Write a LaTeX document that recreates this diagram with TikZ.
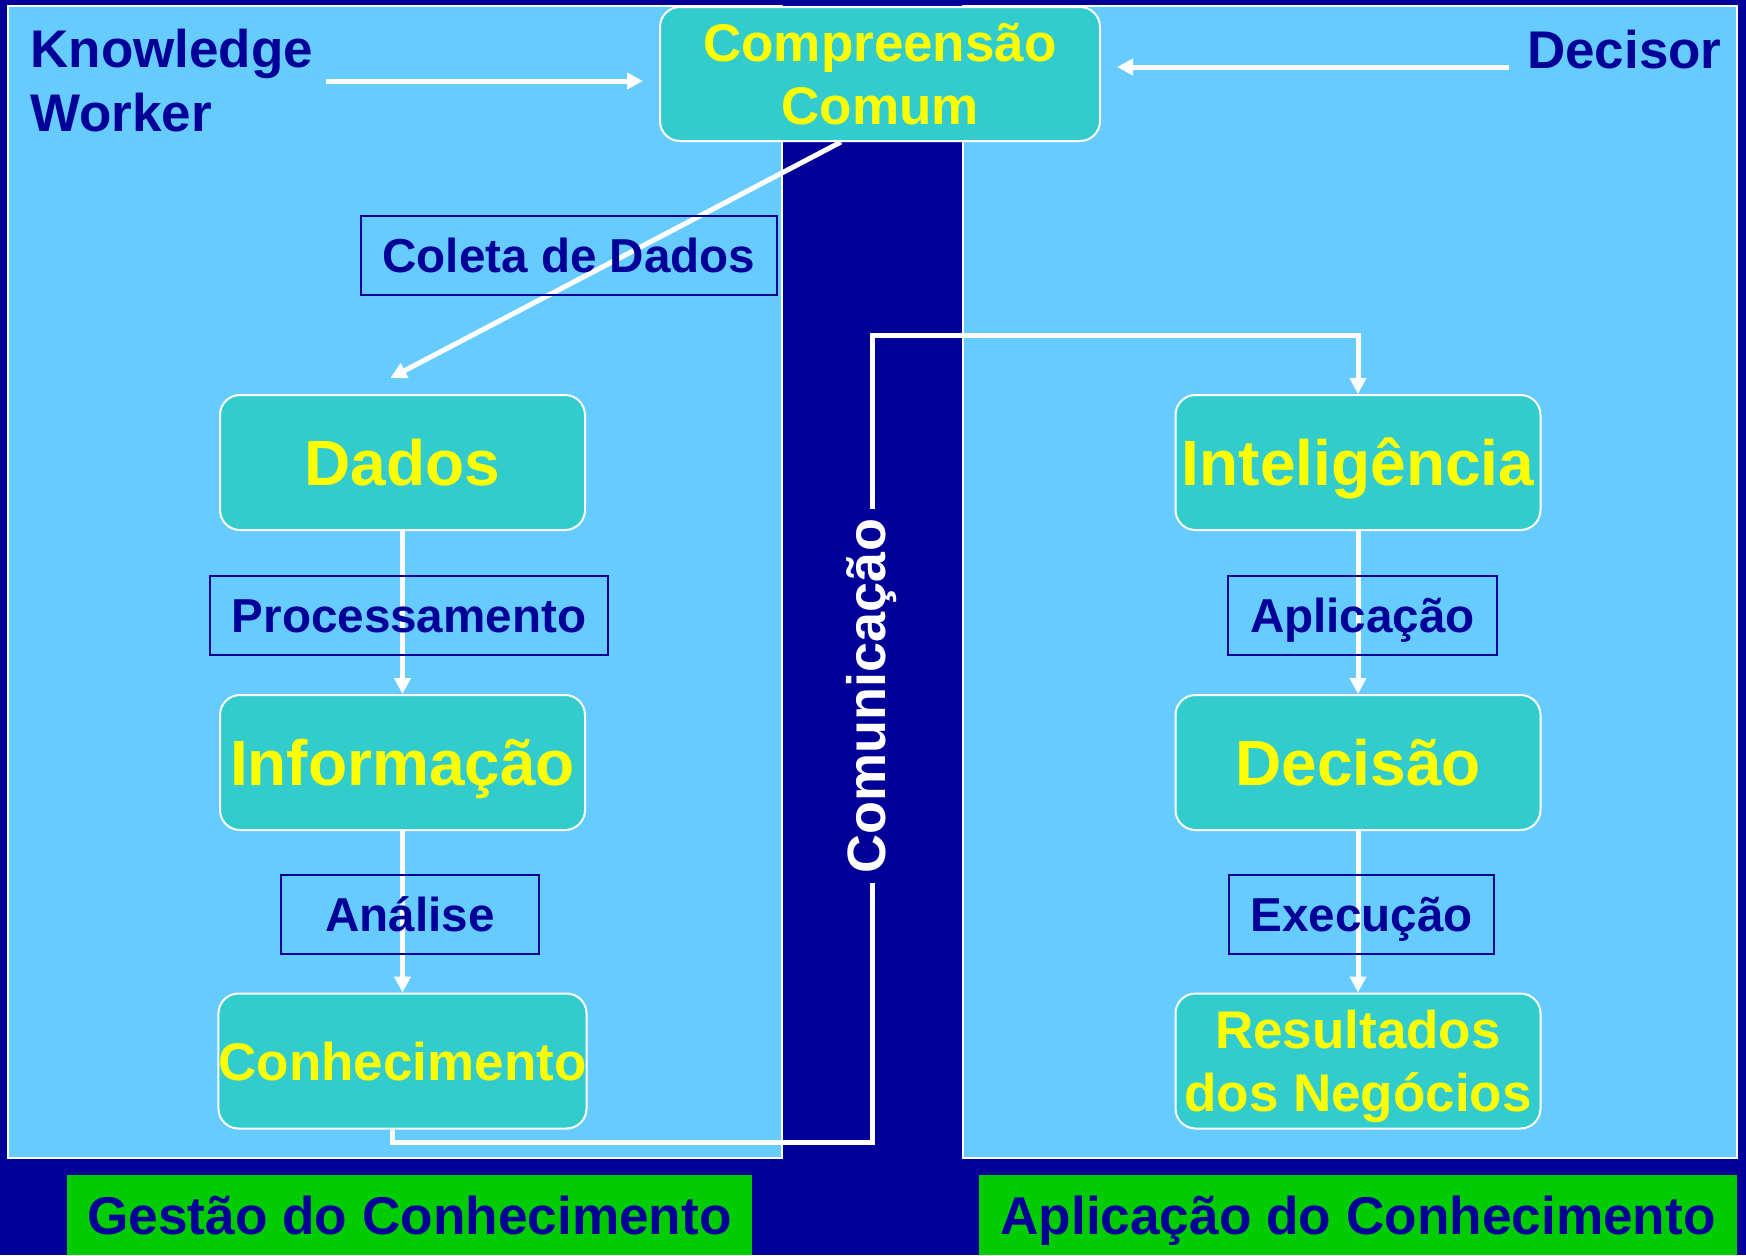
\documentclass[tikz,border=0pt]{standalone}
\usepackage{fontspec}
\setmainfont{Liberation Sans}
\usetikzlibrary{arrows.meta}

\definecolor{fundo}{HTML}{000099}
\definecolor{celeste}{HTML}{66CCFF}
\definecolor{turquesa}{HTML}{33CCCC}
\definecolor{amarelo}{HTML}{FFFF00}
\definecolor{verde}{HTML}{00CC00}

\newcommand{\fonte}[2]{\bfseries\fontsize{#1}{#2}\selectfont}

\tikzset{
  painel/.style={fill=celeste, draw=white, line width=1pt},
  etapa/.style={rounded corners=10pt, fill=turquesa, draw=white, line width=1pt,
    text=amarelo, align=center, inner sep=0pt, text depth=0pt,
    minimum width=182.5pt, minimum height=67.5pt, font=\fonte{32pt}{38pt}},
  etapa2/.style={etapa, font=\fonte{26.5pt}{31.5pt}},
  rotulo/.style={draw=fundo, line width=1pt, text=fundo, inner sep=0pt,
    text height=17.1pt, text depth=0pt,
    minimum height=39.5pt, font=\fonte{23.8pt}{28pt}},
  ator/.style={text=fundo, align=left, inner sep=0pt, font=\fonte{26.5pt}{32pt}},
  titulo/.style={fill=verde, text=fundo, inner sep=0pt, minimum height=40pt,
    text height=19.2pt, text depth=0pt, font=\fonte{26.6pt}{32pt}},
  linha/.style={draw=white, line width=2.5pt},
  seta/.style={linha, ->, >={Triangle[length=8pt,width=8pt]}}
}

\begin{document}
\begin{tikzpicture}[x=0.5pt, y=-0.5pt]
    \useasboundingbox (0,0) rectangle (1746,1255);
    \fill[fundo] (0,0) rectangle (1746,1255);

    % Paineis
    \draw[painel] (8,6) rectangle (782,1158);
    \draw[painel] (963,6) rectangle (1737,1158);

    % Etapas
    \node[etapa2, minimum width=220pt, minimum height=67pt] (cc) at (880,74) {Compreensão\\Comum};
    \node[etapa, text height=23pt] (dados) at (402.5,462.5) {Dados};
    \node[etapa, text height=23pt] (info) at (402.5,762.5) {Informação};
    \node[etapa2, text height=19pt] (con) at (402.5,1061) {Conhecimento};
    \node[etapa, text height=23pt] (int) at (1358,462.5) {Inteligência};
    \node[etapa, text height=23pt] (dec) at (1358,762.5) {Decisão};
    \node[etapa2] (res) at (1358,1061) {Resultados\\dos Negócios};

    % Atores
    \node[ator, anchor=west] (kw) at (30,81) {Knowledge\\Worker};
    \node[ator, anchor=base east] (dc) at (1722,68) {Decisor};
    \node[rotate=90, text=white, inner xsep=5pt, inner ysep=0pt,
      font=\fonte{27pt}{32pt}] (com) at (872,696) {Comunicação};

    % Titulos
    \node[titulo, minimum width=342.5pt] (gc) at (409.5,1215) {Gestão do Conhecimento};
    \node[titulo, minimum width=379pt] (ac) at (1358,1215) {Aplicação do Conhecimento};

    % Setas
    \coordinate (kwa) at (326,81);
    \coordinate (dca) at (1509,67);
    \draw[seta, shorten >=8pt] (kwa) -- (cc.west |- kwa);
    \draw[seta, shorten >=8pt] (dca) -- (cc.east |- dca);
    \draw[seta] ([xshift=-19.5pt]cc.south) -- ([xshift=-6pt,yshift=8pt]dados.north);
    \foreach \a/\b in {dados/info, info/con, int/dec, dec/res}
        \draw[seta] (\a) -- (\b);

    % Comunicacao
    \coordinate (cb) at (872,1142);
    \coordinate (ct) at (872,335);
    \draw[linha] ([xshift=-5pt]con.south) |- (cb) -- (com.west -| cb);
    \draw[seta] (com.east -| ct) -- (ct) -| (int.north);

    % Rotulos
    \node[rotulo, minimum width=208pt] (r1) at (569,255.5) {Coleta de Dados};
    \node[rotulo, minimum width=199pt] (r2) at (409,615.5) {Processamento};
    \node[rotulo, minimum width=129pt] (r3) at (410,914.5) {Análise};
    \node[rotulo, minimum width=134.5pt] (r4) at (1362.5,615.5) {Aplicação};
    \node[rotulo, minimum width=132.5pt] (r5) at (1361.5,914.5) {Execução};

\end{tikzpicture}
\end{document}
